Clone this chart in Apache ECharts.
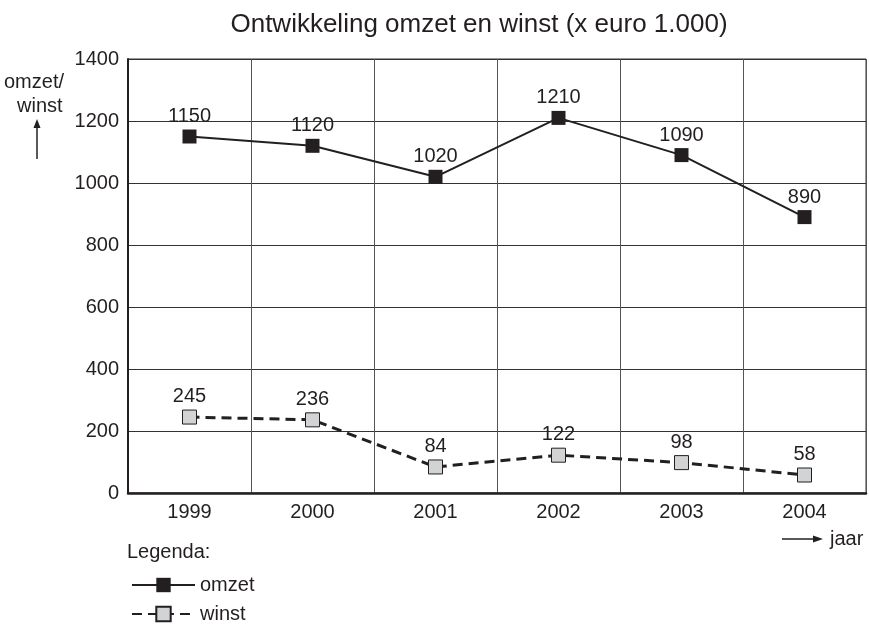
<!DOCTYPE html>
<html><head><meta charset="utf-8">
<script src="https://cdn.jsdelivr.net/npm/echarts@6/dist/echarts.min.js"></script>
<style>html,body{margin:0;padding:0;background:#fff}#c{width:869px;height:626px}</style>
</head><body><div id="c"></div>
<script>
const years = ['1999','2000','2001','2002','2003','2004'];
const omzet = [1150, 1120, 1020, 1210, 1090, 890];
const winst = [245, 236, 84, 122, 98, 58];
const yTicks = [0, 200, 400, 600, 800, 1000, 1200, 1400];

const FONT = 'Liberation Sans';
const INK = '#231f20';
const FS = 20;
const chart = echarts.init(document.getElementById('c'));
chart.setOption({
  animation: false,
  textStyle: { fontFamily: FONT },
  title: {
    text: 'Ontwikkeling omzet en winst (x euro 1.000)',
    left: 474, top: 7, textAlign: 'center',
    textStyle: { fontFamily: FONT, fontSize: 26, fontWeight: 'normal', color: INK }
  },
  grid: { left: 128, right: 3, top: 59, bottom: 133, containLabel: false,
          show: true, borderColor: '#333', borderWidth: 1 },
  xAxis: {
    type: 'category', data: years, boundaryGap: true,
    axisLine: { lineStyle: { color: INK, width: 2.5 } },
    axisTick: { show: false },
    axisLabel: { color: INK, fontSize: FS, margin: 9, fontFamily: FONT },
    splitLine: { show: true, lineStyle: { color: '#555', width: 1 } }
  },
  yAxis: {
    type: 'value', min: 0, max: 1400, interval: 200,
    axisLine: { show: true, lineStyle: { color: INK, width: 2 } },
    axisTick: { show: false },
    axisLabel: { color: INK, fontSize: FS, margin: 9, fontFamily: FONT,
                 formatter: v => yTicks.includes(v) ? String(v) : '' },
    splitLine: { show: true, lineStyle: { color: '#333', width: 1 } }
  },
  legend: [
    { left: 126, top: 570, itemWidth: 63, itemHeight: 18, itemGap: 0,
      textStyle: { fontSize: FS, color: INK, fontFamily: FONT }, data: ['omzet'] },
    { left: 126, top: 599, itemWidth: 63, itemHeight: 18, itemGap: 0,
      textStyle: { fontSize: FS, color: INK, fontFamily: FONT }, data: ['winst'] }
  ],
  series: [
    {
      name: 'omzet', type: 'line', data: omzet,
      symbol: 'rect', symbolSize: 14,
      lineStyle: { color: INK, width: 2 },
      itemStyle: { color: INK, borderColor: INK, borderWidth: 0 },
      label: { show: true, position: 'top', distance: 3, fontSize: FS, color: INK, fontFamily: FONT }
    },
    {
      name: 'winst', type: 'line', data: winst,
      symbol: 'rect', symbolSize: 14,
      lineStyle: { color: INK, width: 3, type: [10, 6] },
      itemStyle: { color: '#d1d3d4', borderColor: INK, borderWidth: 1 },
      label: { show: true, position: 'top', distance: 3, fontSize: FS, color: INK, fontFamily: FONT }
    }
  ],
  graphic: [
    { type: 'text', left: 4, top: 72, style: { text: 'omzet/', fontSize: FS, fill: INK, fontFamily: FONT } },
    { type: 'text', left: 17, top: 96, style: { text: 'winst', fontSize: FS, fill: INK, fontFamily: FONT } },
    { type: 'line', shape: { x1: 37, y1: 159, x2: 37, y2: 126 }, style: { stroke: INK, lineWidth: 1.5 } },
    { type: 'polygon', shape: { points: [[37, 119], [33.5, 128], [40.5, 128]] }, style: { fill: INK } },
    { type: 'text', left: 127, top: 542, style: { text: 'Legenda:', fontSize: FS, fill: INK, fontFamily: FONT } },
    { type: 'line', shape: { x1: 782, y1: 539, x2: 815, y2: 539 }, style: { stroke: INK, lineWidth: 1.5 } },
    { type: 'polygon', shape: { points: [[823, 539], [813, 535.5], [813, 542.5]] }, style: { fill: INK } },
    { type: 'text', left: 830, top: 529, style: { text: 'jaar', fontSize: FS, fill: INK, fontFamily: FONT } }
  ]
});
</script></body></html>
